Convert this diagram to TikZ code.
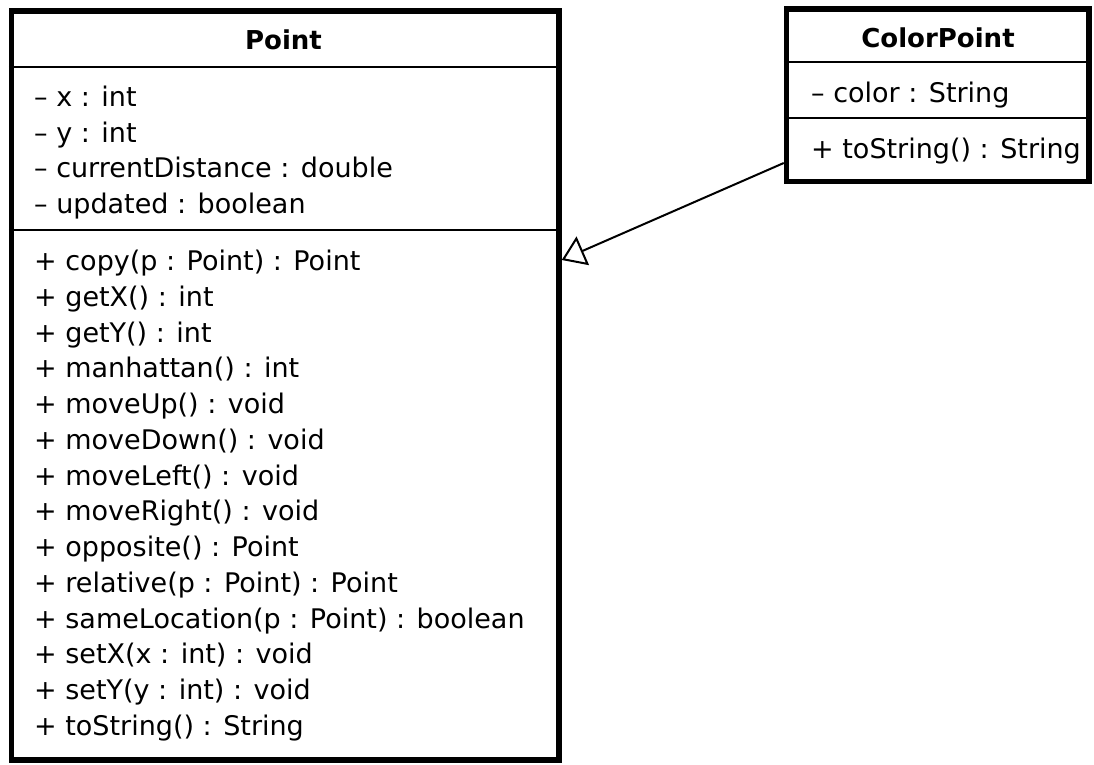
\documentclass[tikz,border=0pt]{standalone}
\usepackage{fontspec}
\setmainfont{DejaVu Sans}
\usetikzlibrary{arrows.meta}
\begin{document}
\begin{tikzpicture}[x=1pt,y=-1pt,
  classbox/.style={draw, line width=5.5pt, inner sep=0pt, outer sep=2.75pt, rectangle},
  sepline/.style={line width=2pt},
  item/.style={anchor=base west, inner sep=0pt, font=\fontsize{27}{30}\selectfont},
  title/.style={anchor=base, inner sep=0pt, font=\fontsize{26}{30}\selectfont\bfseries},
  gen/.style={line width=2pt, -{Triangle[length=23pt,width=31pt,fill=white,line width=2pt]}}
]
\useasboundingbox (0,0) rectangle (1094,764);
% Point class
\node[classbox, minimum width=547.5pt, minimum height=749pt] (pt) at (285.25,385.5) {};
\draw[sepline] (pt.west |- 0,66.5) -- (pt.east |- 0,66.5);
\draw[sepline] (pt.west |- 0,230) -- (pt.east |- 0,230);
\node[title] (ptname) at (283.5,49) {Point};
\foreach \t [count=\i from 0] in {%
  {– x : int},{– y : int},{– currentDistance : double},{– updated : boolean}}
  \node[item] (pa\i) at (34,106.4+35.75*\i) {\t};
\foreach \t [count=\i from 0] in {%
  {+ copy(p : Point) : Point},{+ getX() : int},{+ getY() : int},{+ manhattan() : int},
  {+ moveUp() : void},{+ moveDown() : void},{+ moveLeft() : void},{+ moveRight() : void},
  {+ opposite() : Point},{+ relative(p : Point) : Point},{+ sameLocation(p : Point) : boolean},
  {+ setX(x : int) : void},{+ setY(y : int) : void},{+ toString() : String}}
  \node[item] (pm\i) at (34,270.5+35.75*\i) {\t};
% ColorPoint class
\node[classbox, minimum width=302.5pt, minimum height=172.5pt] (cp) at (937.75,95.25) {};
\draw[sepline] (cp.west |- 0,62) -- (cp.east |- 0,62);
\draw[sepline] (cp.west |- 0,118) -- (cp.east |- 0,118);
\node[title] (cpname) at (938,47) {ColorPoint};
\node[item] (ca0) at (811,102) {– color : String};
\node[item] (cm0) at (811,158) {+ toString() : String};
% generalization
\coordinate (genstart) at (cp.west |- 0,163);
\coordinate (genend) at (pt.east |- 0,260);
\draw[gen] (genstart) -- (genend);
\end{tikzpicture}
\end{document}
